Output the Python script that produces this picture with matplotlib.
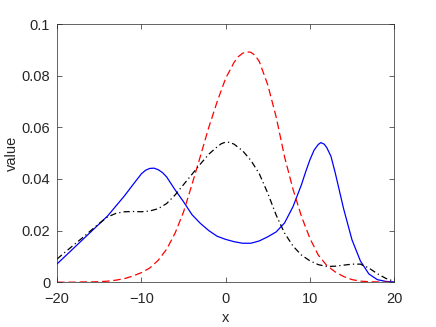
import matplotlib
matplotlib.use("Agg")
import matplotlib.pyplot as plt

plt.rcParams["font.family"] = ["Liberation Sans", "DejaVu Sans"]
plt.rcParams["font.size"] = 10.5

# Blue solid curve
blue_x = [-20, -19, -18, -17, -16, -15, -14, -13, -12, -11, -10, -9.5, -9, -8.5, -8, -7.5, -7,
          -6, -5, -4, -3, -2, -1, 0, 1, 2, 3, 4, 5, 6, 7, 8, 9, 9.5, 10, 10.5, 11, 11.3, 11.7,
          12, 12.5, 13, 13.5, 14, 15, 16, 17, 18, 19, 20]
blue = [0.0071, 0.0102, 0.0133, 0.0164, 0.0195, 0.0226, 0.0257, 0.0296, 0.0335, 0.0378,
        0.0420, 0.0434, 0.0441, 0.0442, 0.0436, 0.0425, 0.0408,
        0.0358, 0.0312, 0.0262, 0.0228, 0.0200, 0.0178, 0.0166, 0.0157, 0.0151, 0.0151,
        0.0160, 0.0176, 0.0195, 0.0230, 0.0293, 0.0378, 0.0428, 0.0474, 0.0512, 0.0534,
        0.0541, 0.0535, 0.0522, 0.0488, 0.0425, 0.0355, 0.0285, 0.0164, 0.0082, 0.0032,
        0.0010, 0.0003, 0.0001]

# Red dashed curve
red_x = [-20, -19, -18, -17, -16, -15, -14, -13, -12, -11, -10, -9, -8, -7, -6, -5, -4, -3,
         -2, -1, 0, 1, 1.5, 2, 2.5, 3, 3.5, 4, 5, 6, 7, 8, 9, 10, 11, 12, 13, 14, 15, 16, 17,
         18, 19, 20]
red = [0.0000, 0.0000, 0.0000, 0.0001, 0.0001, 0.0002, 0.0004, 0.0008, 0.0014, 0.0024,
       0.0037, 0.0055, 0.0085, 0.0128, 0.0190, 0.0272, 0.0378, 0.0488, 0.0600, 0.0700,
       0.0790, 0.0852, 0.0874, 0.0887, 0.0893, 0.0891, 0.0879, 0.0855, 0.0765, 0.0640,
       0.0485, 0.0360, 0.0255, 0.0170, 0.0105, 0.0065, 0.0040, 0.0022, 0.0010, 0.0004,
       0.0002, 0.0001, 0.0000, 0.0000]

# Black dash-dot curve
black_x = [-20, -19, -18, -17, -16, -15, -14, -13, -12, -11, -10, -9, -8, -7, -6, -5, -4, -3,
           -2, -1, -0.5, 0, 0.5, 1, 2, 3, 4, 5, 6, 7, 8, 9, 10, 11, 12, 13, 14, 15, 16, 17, 18,
           19, 20]
black = [0.0090, 0.0118, 0.0145, 0.0172, 0.0200, 0.0228, 0.0253, 0.0267, 0.0273, 0.0274,
         0.0273, 0.0276, 0.0285, 0.0305, 0.0338, 0.0378, 0.0418, 0.0458, 0.0496, 0.0525,
         0.0537, 0.0543, 0.0542, 0.0535, 0.0510, 0.0472, 0.0420, 0.0345, 0.0260, 0.0190,
         0.0140, 0.0105, 0.0083, 0.0068, 0.0061, 0.0062, 0.0066, 0.0070, 0.0070, 0.0055,
         0.0033, 0.0015, 0.0003]

xticks = [-20, -10, 0, 10, 20]
yticks = [0, 0.02, 0.04, 0.06, 0.08, 0.1]
ytick_labels = ["0", "0.02", "0.04", "0.06", "0.08", "0.1"]

fig = plt.figure(figsize=(4.36, 3.27), dpi=100)
ax = fig.add_axes([0.131, 0.137, 0.773, 0.789])

ax.plot(blue_x, blue, color="#0000ff", linestyle="-", linewidth=0.9)
ax.plot(red_x, red, color="#ff0000", linestyle="--", linewidth=0.9, dashes=(6, 3))
ax.plot(black_x, black, color="#000000", linestyle="-.", linewidth=0.9, dashes=(5, 2.5, 1, 2.5))

ax.set_xlim(-20, 20)
ax.set_ylim(0, 0.1)
ax.set_xticks(xticks)
ax.set_yticks(yticks)
ax.set_yticklabels(ytick_labels)
ax.set_xlabel("x", color="#262626", labelpad=4)
ax.set_ylabel("value", color="#262626", labelpad=2)

for spine in ax.spines.values():
    spine.set_color("#262626")
    spine.set_linewidth(0.5)
ax.tick_params(direction="in", length=3.5, width=0.5, color="#262626",
               labelcolor="#262626", top=True, right=True)
ax.tick_params(axis="x", pad=7)
ax.tick_params(axis="y", pad=5)

fig.savefig("out.png", dpi=100)
